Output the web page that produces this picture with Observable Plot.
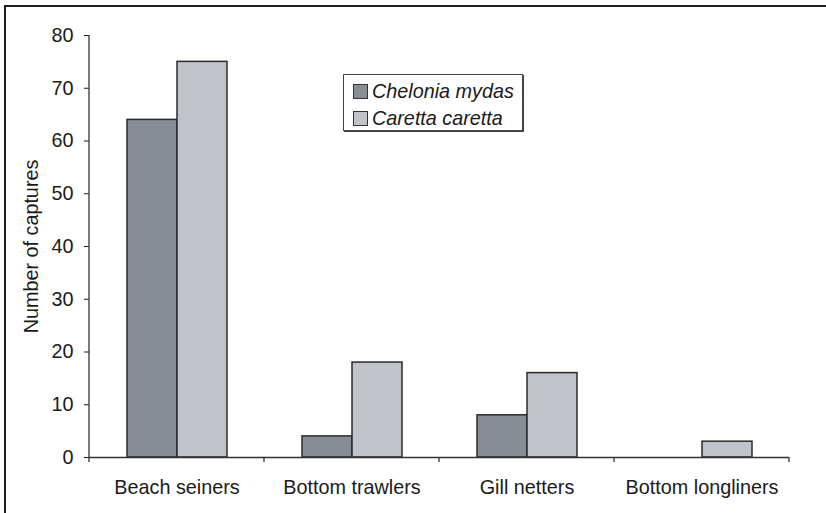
<!DOCTYPE html>
<html>
<head>
<meta charset="utf-8">
<script src="https://cdn.jsdelivr.net/npm/d3@7"></script>
<script src="https://cdn.jsdelivr.net/npm/@observablehq/plot@0.6"></script>
<style>
  html, body { margin: 0; padding: 0; background: #fff; overflow: hidden; }
  #wrap { position: relative; width: 826px; height: 513px; font-family: "Liberation Sans", Arial, sans-serif; }
  #frame { position: absolute; left: 4px; top: 5px; width: 840px; height: 530px; border-top: 2px solid #1e1e1e; border-left: 2px solid #1e1e1e; pointer-events: none; }
  #legend { position: absolute; left: 343px; top: 74px; width: 178px; height: 55px; border: 1px solid #444; box-shadow: 1px 1px 0 #444; background: #fff; font-size: 19.8px; font-style: italic; color: #1a1a1a; }
  .item { position: absolute; left: 9px; display: flex; align-items: center; }
  .sw { width: 13px; height: 13px; border: 1px solid #333; margin-right: 4px; }
</style>
</head>
<body>
<div id="wrap">
  <div id="chart"></div>
  <div id="legend"></div>
  <div id="frame"></div>
</div>
<script>
const categories = ["Beach seiners", "Bottom trawlers", "Gill netters", "Bottom longliners"];
const series = ["Chelonia mydas", "Caretta caretta"];
const cheloniaMydas = [64, 4, 8, 0];
const carettaCaretta = [75, 18, 16, 3];
const yTicks = [0, 10, 20, 30, 40, 50, 60, 70, 80];
const colors = ["#878d95", "#c1c3ca"];

const data = categories.flatMap((c, i) => [
  {cat: c, sp: series[0], v: cheloniaMydas[i]},
  {cat: c, sp: series[1], v: carettaCaretta[i]}
]);

const chart = Plot.plot({
  width: 826,
  height: 513,
  marginLeft: 88,
  marginRight: 36,
  marginTop: 35,
  marginBottom: 56,
  style: {fontFamily: "'Liberation Sans', Arial, sans-serif", fontSize: "19.8px", color: "#1a1a1a", background: "transparent"},
  fx: {domain: categories, padding: 0, label: null, tickSize: 0, tickPadding: 22},
  x: {domain: series, paddingInner: 0, paddingOuter: 0.72, axis: null},
  y: {domain: [0, 80], ticks: yTicks, tickSize: 5, tickPadding: 11, label: "Number of captures", labelAnchor: "center", labelArrow: "none", labelOffset: 66},
  color: {domain: series, range: colors},
  marks: [
    Plot.barY(data, {fx: "cat", x: "sp", y: "v", fill: "sp", stroke: "#2b2b2b", strokeWidth: 1.5}),
    Plot.ruleY([0], {stroke: "#333", strokeWidth: 1.5})
  ]
});
document.getElementById("chart").appendChild(chart);

// axis domain line and boundary ticks derived from Plot's scales
const fx = chart.scale("fx");
const y = chart.scale("y");
const svg = d3.select(chart);
const x0 = fx.apply(categories[0]);
const xEnd = fx.apply(categories[categories.length - 1]) + fx.bandwidth;
const g = svg.append("g").attr("stroke", "#333").attr("stroke-width", 1.3);
g.append("line").attr("x1", x0).attr("x2", x0).attr("y1", y.apply(80)).attr("y2", y.apply(0));
const bounds = categories.map(c => fx.apply(c)).concat([xEnd]);
bounds.forEach(b => {
  g.append("line").attr("x1", b).attr("x2", b).attr("y1", y.apply(0)).attr("y2", y.apply(0) + 5);
});

// legend
const legend = document.getElementById("legend");
series.forEach((s, i) => {
  const item = document.createElement("div");
  item.className = "item";
  item.style.top = (5 + i * 27) + "px";
  const sw = document.createElement("div");
  sw.className = "sw";
  sw.style.background = colors[i];
  const t = document.createElement("span");
  t.textContent = s;
  item.appendChild(sw);
  item.appendChild(t);
  legend.appendChild(item);
});
</script>
</body>
</html>
